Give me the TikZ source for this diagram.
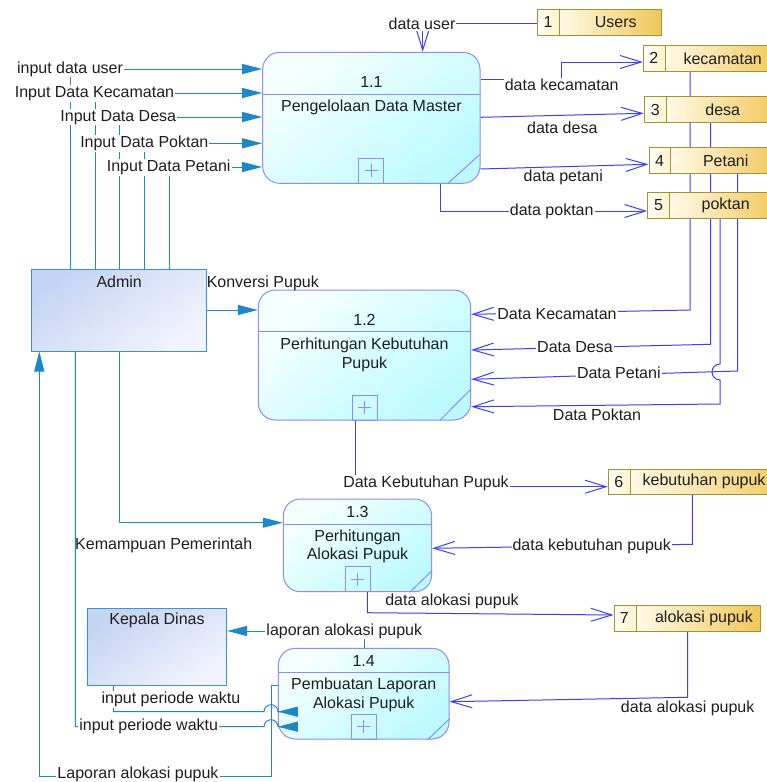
\documentclass[tikz,border=0pt]{standalone}
\usepackage{fontspec}
\setmainfont{Liberation Sans}
\usetikzlibrary{arrows.meta,fit,backgrounds}

\definecolor{procedge}{RGB}{140,140,250}
\definecolor{procA}{RGB}{246,255,255}
\definecolor{procB}{RGB}{188,250,255}
\definecolor{entA}{RGB}{196,212,243}
\definecolor{entB}{RGB}{242,243,253}
\definecolor{entedge}{RGB}{50,150,205}
\definecolor{storeedge}{RGB}{160,148,50}
\definecolor{storeA}{RGB}{255,250,232}
\definecolor{storeB}{RGB}{240,198,88}
\definecolor{numA}{RGB}{255,255,248}
\definecolor{numB}{RGB}{255,242,205}
\definecolor{dflowc}{RGB}{62,62,255}
\definecolor{eflowc}{RGB}{30,135,200}
\definecolor{ink}{RGB}{30,30,30}

\begin{document}
\begin{tikzpicture}[x=1pt,y=-1pt,
  font=\fontsize{16}{18.3}\selectfont, text=ink,
  proc/.style={draw=procedge, line width=1pt, rounded corners=17pt, inner sep=0pt,
    top color=procA, bottom color=procB, shading angle=40},
  procdeco/.style={draw=procedge, line width=1pt},
  plusbox/.style={draw=procedge, line width=1pt, minimum size=25pt, inner sep=0pt},
  ent/.style={draw=entedge, line width=1pt, inner sep=0pt,
    top color=entA, bottom color=entB, shading angle=35},
  storenum/.style={draw=storeedge, line width=1pt, inner sep=0pt, left color=numA, right color=numB},
  storename/.style={draw=storeedge, line width=1pt, inner sep=0pt, left color=storeA, right color=storeB},
  dflow/.style={draw=dflowc, line width=1pt, -{Straight Barb[length=21pt,width=13pt]}},
  eflow/.style={draw=eflowc, line width=1pt, -{Triangle[length=20pt,width=10pt]}},
  lbl/.style={fill=white, inner sep=1pt},
  txt/.style={inner sep=1pt}
]
\useasboundingbox (0,0) rectangle (766,782);

% ---------- processes ----------
\node[proc, fit={(262.7,52.3)(480,183.3)}] (p11) {};
\draw[procdeco] (p11.west |- 0,94) -- (p11.east |- 0,94);
\node[plusbox, anchor=south] (p11x) at (p11.south) {};
\draw[procdeco] (p11.south east) ++(0,-30) -- ++(-33,30);
\node (p11n) at (371.4,82) {1.1};
\node (p11t) at (371.4,107) {Pengelolaan Data Master};

\node[proc, fit={(258.3,290)(470.7,420)}] (p12) {};
\draw[procdeco] (p12.west |- 0,331.7) -- (p12.east |- 0,331.7);
\node[plusbox, anchor=south] (p12x) at (p12.south) {};
\draw[procdeco] (p12.south east) ++(0,-31.7) -- ++(-31.4,31.7);
\node (p12n) at (364.5,320) {1.2};
\node[align=center] (p12t) at (364.5,355) {Perhitungan Kebutuhan\\Pupuk};

\node[proc, fit={(283.3,499)(431.7,591.7)}] (p13) {};
\draw[procdeco] (p13.west |- 0,524.3) -- (p13.east |- 0,524.3);
\node[plusbox, anchor=south] (p13x) at (p13.south) {};
\draw[procdeco] (p13.south east) ++(0,-21.7) -- ++(-22.4,21.7);
\node (p13n) at (357.5,511.7) {1.3};
\node[align=center] (p13t) at (357.5,546.2) {Perhitungan\\Alokasi Pupuk};

\node[proc, fit={(278.3,648.3)(449,739)}] (p14) {};
\draw[procdeco] (p14.west |- 0,672.3) -- (p14.east |- 0,672.3);
\node[plusbox, anchor=south] (p14x) at (p14.south) {};
\draw[procdeco] (p14.south east) ++(0,-20.7) -- ++(-21.7,20.7);
\node (p14n) at (363.7,660.7) {1.4};
\node[align=center] (p14t) at (363.7,695) {Pembuatan Laporan\\Alokasi Pupuk};

% plus signs of the sub-process boxes
\foreach \b in {p11x,p12x,p13x,p14x}
  \draw[procdeco, line width=0.8pt] (\b.center) +(-6.5,0) -- +(6.5,0)
        (\b.center) +(0,-6.5) -- +(0,6.5);

% ---------- external entities ----------
\node[ent, fit={(31.7,269)(206.7,351)}] (admin) {};
\node (admint) at (119.2,281.7) {Admin};
\node[ent, fit={(87.3,608.3)(226.7,685.7)}] (kd) {};
\node (kdt) at (157,620.7) {Kepala Dinas};

% ---------- data stores ----------
\node[storename, fit={(559.3,9.3)(661.7,35)}] (st1) {};
\node[storenum, fit={(537.7,9.3)(559.3,35)}] (st1n) {};
\node (st1a) at (548,22.2) {1};
\node (st1b) at (615.7,22.2) {Users};

\node[storename, fit={(665.7,45.7)(780,71)}] (st2) {};
\node[storenum, fit={(643.3,45.7)(665.7,71)}] (st2n) {};
\node (st2a) at (653.8,58.3) {2};
\node (st2b) at (722.7,58.3) {kecamatan};

\node[storename, fit={(666.7,96.7)(780,122.7)}] (st3) {};
\node[storenum, fit={(644.3,96.7)(666.7,122.7)}] (st3n) {};
\node (st3a) at (655.3,109.7) {3};
\node (st3b) at (722.7,109.7) {desa};

\node[storename, fit={(670.7,147.7)(780,173.3)}] (st4) {};
\node[storenum, fit={(649,147.7)(670.7,173.3)}] (st4n) {};
\node (st4a) at (659.5,160.5) {4};
\node (st4b) at (725.7,160.5) {Petani};

\node[storename, fit={(669.3,192.7)(780,218.3)}] (st5) {};
\node[storenum, fit={(647.7,192.7)(669.3,218.3)}] (st5n) {};
\node (st5a) at (658.5,205.5) {5};
\node (st5b) at (725.7,205.5) {poktan};

\node[storename, fit={(630,469)(800,494)}] (st6) {};
\node[storenum, fit={(608.3,469)(630,494)}] (st6n) {};
\node (st6a) at (618.8,481.5) {6};
\node[anchor=west, inner sep=0pt] (st6b) at (642.5,481.5) {kebutuhan pupuk};

\node[storename, fit={(636.7,605)(760.7,631.7)}] (st7) {};
\node[storenum, fit={(614,605)(636.7,631.7)}] (st7n) {};
\node (st7a) at (624.3,618.3) {7};
\node (st7b) at (704,618.3) {alokasi pupuk};

% ---------- paper and the store lines that run behind the stores ----------
\begin{scope}[on background layer]
\fill[white] (0,0) rectangle (766,782);
\draw[dflow] (st2n.south -| 690,0) -- (690,310) -- (p12.east |- 0,314.3);
\draw[dflow] (st3n.south -| 710.7,0) -- (710.7,344.3) -- (p12.east |- 0,350);
\draw[dflow] (st4n.south -| 737.7,0) -- (737.7,371) -- (p12.east |- 0,379.3);
\draw[dflow] (st5n.south -| 720,0) -- (720,364) arc[start angle=90, end angle=270, radius=8pt]
   -- (720,404) -- (p12.east |- 0,406.7);
\end{scope}
\node[lbl] (l2k) at (557,314) {Data Kecamatan};
\node[lbl] (l2d) at (575,347) {Data Desa};
\node[lbl] (l2p) at (618.8,372.3) {Data Petani};
\node[txt] (l2pk) at (597,414.3) {Data Poktan};

% ---------- flows ----------
% Admin inputs into 1.1
\foreach \vx/\hy in {70/69, 95/93, 119.3/117, 144.3/143.3, 169.3/167}
  \draw[eflow] (admin.north -| \vx,0) -- (\vx,\hy) -- (p11.west |- 0,\hy);
\node[lbl] (la1) at (70,69) {input data user};
\node[lbl] (la2) at (94.5,93.5) {Input Data Kecamatan};
\node[lbl] (la3) at (118.3,117.3) {Input Data Desa};
\node[lbl] (la4) at (144.3,143.3) {Input Data Poktan};
\node[lbl] (la5) at (168.7,167.3) {Input Data Petani};

% Users -> 1.1
\draw[dflow] (st1n.west |- 0,23) -- (422.7,23) -- (p11.north -| 422.7,0);
\node[lbl] (lu) at (422,24) {data user};

% 1.1 -> stores
\draw[dflow] (p11.east |- 0,79.3) -- (561.7,79.3) -- (561.7,62) -- (st2n.west |- 0,62);
\node[lbl] (lk) at (561.7,85) {data kecamatan};
\draw[dflow] (p11.east |- 0,117.3) -- (st3n.west |- 0,113.3);
\node[txt] (ld) at (562.3,127.7) {data desa};
\draw[dflow] (p11.east |- 0,169) -- (st4n.west |- 0,164.3);
\node[txt] (lp) at (563.3,177.3) {data petani};
\draw[dflow] (p11.south -| 440,0) -- (440,211) -- (st5n.west |- 0,211);
\node[lbl] (lpk) at (551.7,211) {data poktan};

% Admin -> 1.2
\draw[eflow] (admin.east |- 0,310) -- (p12.west |- 0,310);
\node[txt] (lkp) at (262.8,283.3) {Konversi Pupuk};

% 1.2 -> store 6
\draw[dflow] (p12.south -| 355.7,0) -- (355.7,486.7) -- (st6n.west |- 0,486.7);
\node[lbl] (lkb) at (426,483.3) {Data Kebutuhan Pupuk};

% store 6 -> 1.3
\draw[dflow] (st6n.south -| 692.3,0) -- (692.3,544.3) -- (p13.east |- 0,548.3);
\node[lbl] (lkb2) at (591.7,546.7) {data kebutuhan pupuk};

% Admin -> 1.3
\draw[eflow] (admin.south -| 119.3,0) -- (119.3,522.7) -- (p13.west |- 0,522.7);
\node[txt] (lkm) at (163.7,545) {Kemampuan Pemerintah};

% 1.3 -> store 7
\draw[dflow] (p13.south -| 367.3,0) -- (367.3,612.7) -- (st7n.west |- 0,615);
\node[txt] (lal) at (452,601) {data alokasi pupuk};

% store 7 -> 1.4
\draw[dflow] (st7n.south -| 687.7,0) -- (687.7,697.3) -- (p14.east |- 0,701.7);
\node[txt] (lal2) at (687.7,708.3) {data alokasi pupuk};

% 1.4 -> Kepala Dinas
\draw[eflow] (p14.north -| 364,0) -- (364,631) -- (kd.east |- 0,631);
\node[lbl] (llap) at (344.3,631) {laporan alokasi pupuk};

% 1.4 -> Admin
\draw[eflow] (p14.west |- 0,685.7) -- (271,685.7) -- (271,776) -- (39.3,776) -- (admin.south -| 39.3,0);
\node[lbl] (llap2) at (138,774.3) {Laporan alokasi pupuk};

% Kepala Dinas -> 1.4 and Admin -> 1.4, hopping over the vertical line
\draw[eflow] (kd.south -| 113.3,0) -- (113.3,711.7) -- (264,711.7)
   arc[start angle=180, end angle=0, radius=7pt] -- (p14.west |- 0,711.7);
\node[lbl] (lpw) at (171,699.3) {input periode waktu};
\draw[eflow] (admin.south -| 75.3,0) -- (75.3,726.7) -- (264,726.7)
   arc[start angle=180, end angle=0, radius=7pt] -- (p14.west |- 0,726.7);
\node[lbl] (lpw2) at (148.7,726.7) {input periode waktu};

\end{tikzpicture}
\end{document}
